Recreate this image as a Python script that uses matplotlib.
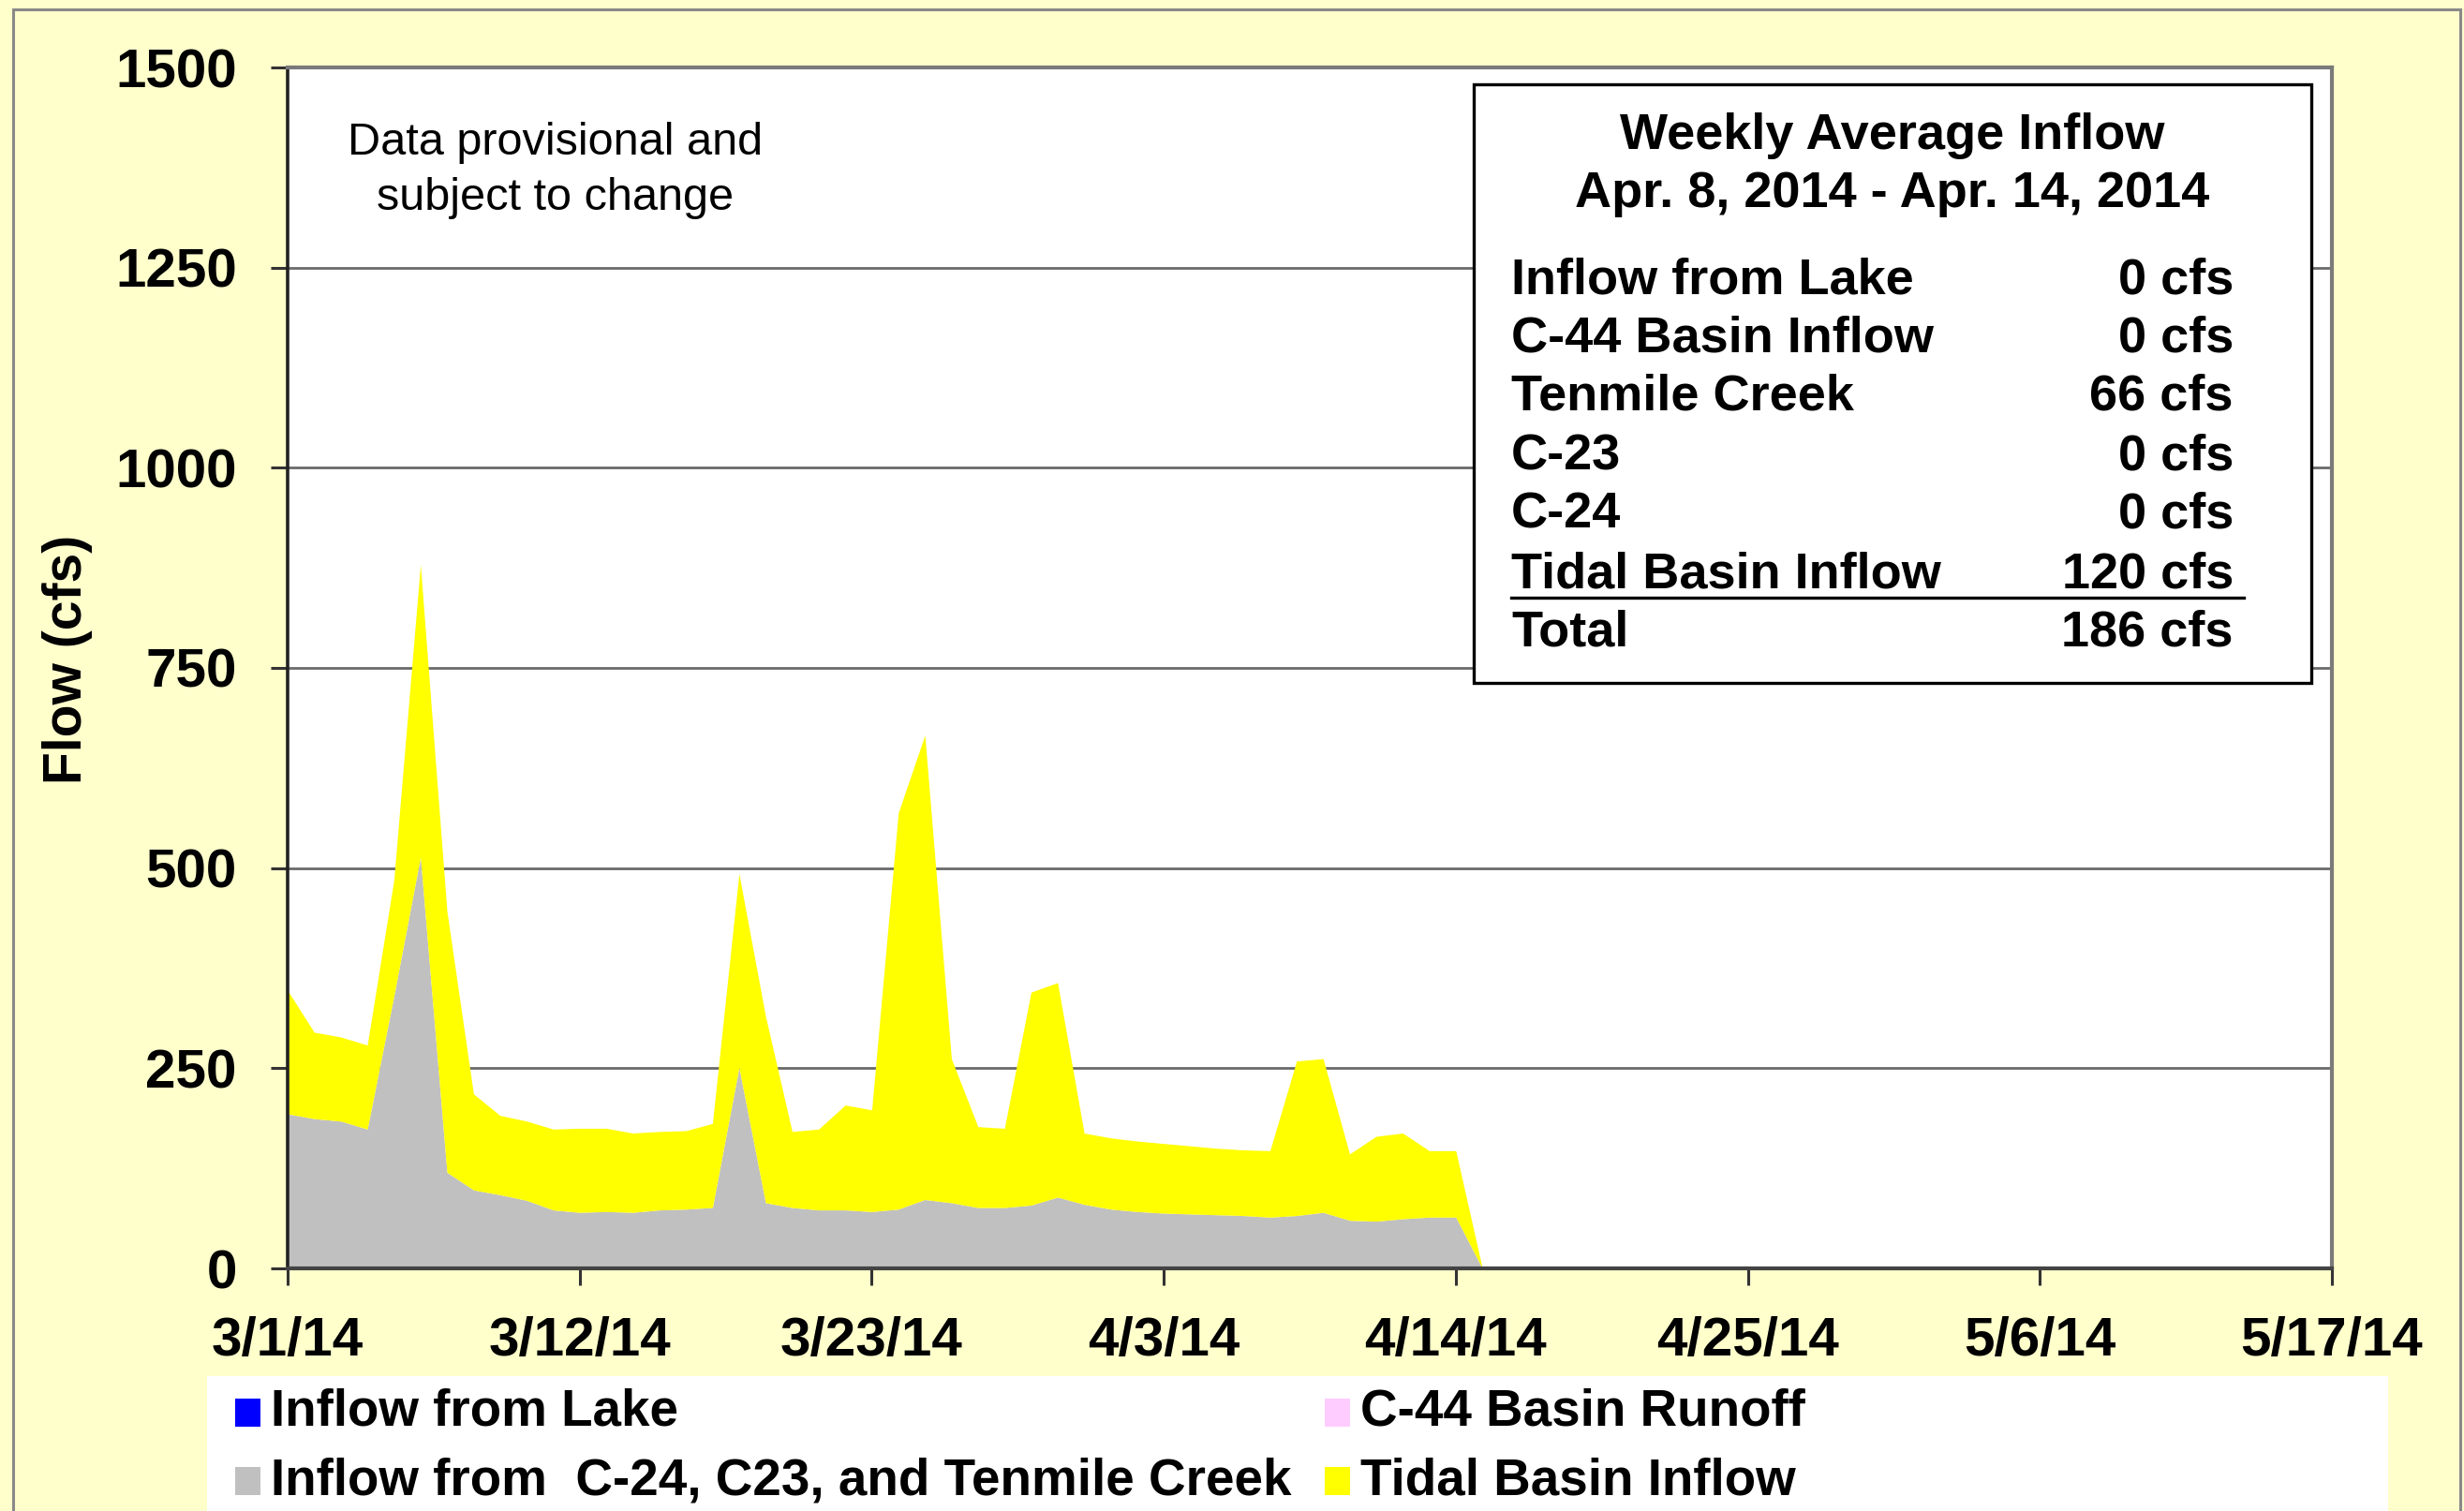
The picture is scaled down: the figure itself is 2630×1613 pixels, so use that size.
import matplotlib
matplotlib.use("Agg")
import matplotlib.pyplot as plt
import matplotlib.ticker as mticker
import matplotlib.dates as mdates
from matplotlib.patches import Rectangle
from matplotlib.lines import Line2D
import numpy as np
import pandas as pd

plt.rcParams['font.family'] = ['Liberation Sans', 'DejaVu Sans']

# ---------------- data ----------------
dates = pd.date_range('2014-03-01', '2014-04-15', freq='D')
lake_inflow = [0] * 46
c44_runoff = [0] * 46
c24_c23_tenmile = [193, 187, 184, 174, 340, 514, 120, 98, 92, 85,
                   73, 70, 71, 70, 73, 74, 76, 251, 82, 76,
                   73, 73, 71, 74, 86, 82, 76, 76, 79, 89,
                   80, 74, 71, 69, 68, 67, 66, 64, 66, 70,
                   60, 59, 62, 64, 64, 0]
tidal_inflow = [154, 108, 105, 105, 145, 365, 326, 120, 99, 99,
                101, 105, 104, 99, 98, 98, 105, 242, 233, 95,
                101, 131, 127, 495, 580, 180, 101, 99, 266, 268,
                89, 89, 88, 87, 85, 83, 82, 83, 193, 192,
                83, 106, 107, 83, 83, 0]

x_start, x_end = '2014-03-01', '2014-05-17'
tick_dates = pd.date_range('2014-03-01', '2014-05-17', freq='11D')
y_ticks = [0, 250, 500, 750, 1000, 1250, 1500]

legend_labels = ["Inflow from Lake", "C-44 Basin Runoff",
                 "Inflow from  C-24, C23, and Tenmile Creek", "Tidal Basin Inflow"]
legend_colors = ["#0000FF", "#FFCCFF", "#C0C0C0", "#FFFF00"]

summary_title = ["Weekly Average Inflow", "Apr. 8, 2014 - Apr. 14, 2014"]
summary_rows = ["Inflow from Lake", "C-44 Basin Inflow", "Tenmile Creek",
                "C-23", "C-24", "Tidal Basin Inflow"]
summary_values = [0, 0, 66, 0, 0, 120]
summary_total = 186

note_text = "Data provisional and\nsubject to change"

# ---------------- figure ----------------
W, H = 2630, 1613
fig = plt.figure(figsize=(W / 100, H / 100), dpi=100, facecolor='#FFFFCC')


def fx(x):
    return x / W


def fy(y):
    return 1 - y / H


AX_L, AX_R, AX_T, AX_B = 307, 2489, 72, 1354
ax = fig.add_axes([fx(AX_L), fy(AX_B), (AX_R - AX_L) / W, (AX_B - AX_T) / H])
ax.set_facecolor('white')

lake = np.array(lake_inflow, dtype=float)
gray = np.array(c24_c23_tenmile, dtype=float)
c44 = np.array(c44_runoff, dtype=float)
tidal = np.array(tidal_inflow, dtype=float)

b1 = lake
b2 = b1 + gray
b3 = b2 + c44
b4 = b3 + tidal
ax.fill_between(dates, b1, b2, color='#C0C0C0', lw=0, zorder=2)
ax.fill_between(dates, b3, b4, color='#FFFF00', lw=0, zorder=2)

ax.set_xlim(pd.Timestamp(x_start), pd.Timestamp(x_end))
ax.set_ylim(0, 1500)
ax.set_yticks(y_ticks)
ax.set_xticks(tick_dates)
ax.xaxis.set_major_formatter(mticker.FuncFormatter(
    lambda v, p: (lambda d: f"{d.month}/{d.day}/{d.strftime('%y')}")(mdates.num2date(v))))

ax.set_axisbelow(True)
ax.yaxis.grid(True, color='#6a6a6a', lw=2.0)
ax.xaxis.grid(False)

ax.spines['left'].set_color('#222222')
ax.spines['left'].set_linewidth(2.6)
ax.spines['bottom'].set_color('#444444')
ax.spines['bottom'].set_linewidth(3.0)
for s in ['top', 'right']:
    ax.spines[s].set_color('#7a7a7a')
    ax.spines[s].set_linewidth(3.0)

ax.tick_params(axis='both', direction='out', length=13, width=2.2, color='#333333')
ax.tick_params(axis='y', pad=26, labelsize=42)
ax.tick_params(axis='x', pad=24, labelsize=42)
for lab in ax.get_xticklabels() + ax.get_yticklabels():
    lab.set_fontweight('bold')

ax.set_ylabel("Flow (cfs)", fontsize=41, fontweight='bold')
ax.yaxis.set_label_coords((99 - AX_L) / (AX_R - AX_L), (AX_B - 704) / (AX_B - AX_T))

# note text
fig.text(fx(593), fy(182), note_text, ha='center', va='center', fontsize=35,
         linespacing=1.42)

# summary box
fig.patches.append(Rectangle((fx(1573), fy(729)), (2467 - 1573) / W, (729 - 90) / H,
                             transform=fig.transFigure, facecolor='white',
                             edgecolor='black', lw=2.4, zorder=3))
fig.text(fx(2020), fy(145), summary_title[0], ha='center', va='center',
         fontsize=39, fontweight='bold', zorder=4)
fig.text(fx(2020), fy(207), summary_title[1], ha='center', va='center',
         fontsize=39, fontweight='bold', zorder=4)
row_y = [300, 362, 424, 488, 550, 613]
for lab, val, yy in zip(summary_rows, summary_values, row_y):
    fig.text(fx(1613), fy(yy), lab, ha='left', va='center', fontsize=39,
             fontweight='bold', zorder=4)
    fig.text(fx(2384), fy(yy), f"{val} cfs", ha='right', va='center', fontsize=39,
             fontweight='bold', zorder=4)
fig.lines.append(Line2D([fx(1613), fx(2395)], [fy(638), fy(638)],
                        transform=fig.transFigure, color='black', lw=2.4, zorder=4))
fig.text(fx(1613), fy(676), "Total", ha='left', va='center', fontsize=39,
         fontweight='bold', zorder=4)
fig.text(fx(2384), fy(676), f"{summary_total} cfs", ha='right', va='center',
         fontsize=39, fontweight='bold', zorder=4)

# legend
fig.patches.append(Rectangle((fx(221), fy(1640)), (2549 - 221) / W, (1640 - 1469) / H,
                             transform=fig.transFigure, facecolor='white',
                             edgecolor='none', zorder=3))
leg_pos = [(251, 1508), (1414, 1508), (251, 1581), (1414, 1581)]
for (lx, ly), lab, col in zip(leg_pos, legend_labels, legend_colors):
    fig.patches.append(Rectangle((fx(lx), fy(ly + 15)), 27 / W, 30 / H,
                                 transform=fig.transFigure, facecolor=col,
                                 edgecolor='none', zorder=4))
    fig.text(fx(lx + 38), fy(ly), lab, ha='left', va='center', fontsize=39.4,
             fontweight='bold', zorder=4)

# outer border
fig.patches.append(Rectangle((fx(14), fy(1700)), (2626 - 14) / W, (1700 - 10) / H,
                             transform=fig.transFigure, facecolor='none',
                             edgecolor='#8a8a8a', lw=2.2, zorder=5))

fig.savefig('out.png', dpi=100, facecolor=fig.get_facecolor())
